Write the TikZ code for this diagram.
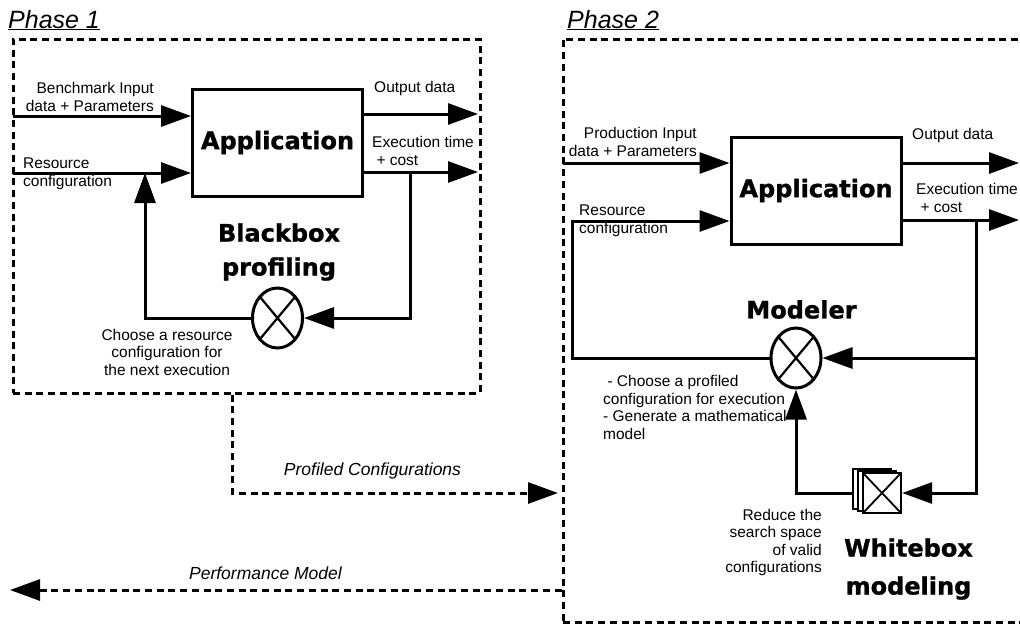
\documentclass[tikz,border=0pt]{standalone}
\usepackage{fontspec}
\setmainfont{Liberation Sans}
\newfontfamily\heavyfont{DejaVu Sans}[BoldFeatures={FakeBold=1.2}]
\usetikzlibrary{arrows.meta,positioning,shapes.geometric,calc}
\tikzset{
  phasebox/.style = {draw, line width=3pt, dash pattern=on 7pt off 4.7pt},
  appbox/.style = {draw, line width=3pt, minimum width=170pt, minimum height=107pt, font=\heavyfont\bfseries\fontsize{24}{28}\selectfont},
  selector/.style = {ellipse, draw, line width=3pt, minimum width=50pt, minimum height=60pt, inner sep=0pt,
    path picture={\draw[line width=2.2pt] (path picture bounding box.north west) -- (path picture bounding box.south east)
      (path picture bounding box.north east) -- (path picture bounding box.south west);}},
  wbsheet/.style = {draw, fill=white, line width=2.4pt, minimum width=38pt, minimum height=40pt, inner sep=0pt},
  flow/.style = {-{Triangle[length=30pt,width=21pt]}, line width=3pt},
  dflow/.style = {flow, dash pattern=on 7pt off 4.7pt},
  lbl/.style = {inner sep=0pt, font=\fontsize{15.5}{17.5}\selectfont},
  boldtitle/.style = {inner sep=0pt, align=center, font=\heavyfont\bfseries\fontsize{24}{34}\selectfont},
  phasetitle/.style = {inner sep=0pt, font=\itshape\fontsize{25}{28}\selectfont},
  linklabel/.style = {inner sep=0pt, font=\itshape\fontsize{17.5}{20}\selectfont}
  }
\begin{document}
\begin{tikzpicture}[x=1pt,y=-1pt]
\useasboundingbox (0,0) rectangle (1020,625);
\clip (0,0) rectangle (1020,625);

\node[phasebox, minimum width=467pt, minimum height=354pt] (phase1) at (246.5,216) {};
\node[phasebox, minimum width=480pt, minimum height=583pt] (phase2) at (803,330.5) {};
\node[phasetitle, anchor=base west] (ph1title) at (8,28) {\underline{Phase 1}};
\node[phasetitle, anchor=base west] (ph2title) at (567,28) {\underline{Phase 2}};

\node[appbox] (app1) at (277.5,142.5) {Application};
\node[selector, below=89pt of app1] (sel1) {};
\node[boldtitle] (bb1) at (279,252) {Blackbox\\profiling};
\coordinate (bin1) at (13,116);
\coordinate (rin1) at (13,173);
\coordinate (dout1) at (478,114);
\coordinate (tout1) at (478,172);
\coordinate (tap1) at (410,172);
\coordinate (ret1) at (145,173);
\node[lbl, align=right, anchor=east] (bench) at (154,97) {Benchmark Input\\data + Parameters};
\node[lbl, align=left, anchor=west] (res1) at (23,174) {Resource\\configuration};
\node[lbl, anchor=west] (out1) at (374,88) {Output data};
\node[lbl, align=left, anchor=west] (exec1) at (372,151) {Execution time\\\ + cost};
\node[lbl, align=center] (choose1) at (167,352) {Choose a resource\\configuration for\\the next execution};

\draw[flow] (bin1) -- (bin1 -| app1.west);
\draw[flow] (rin1) -- (rin1 -| app1.west);
\draw[flow] (app1.east |- dout1) -- (dout1);
\draw[flow] (app1.east |- tout1) -- (tout1);
\draw[flow] (tap1) |- (sel1.east);
\draw[flow] (sel1.west) -| (ret1);

\node[appbox] (app2) at (816,190.5) {Application};
\node[selector] (sel2) at (796,358) {};
\node[boldtitle] (modeler) at (801.5,309.5) {Modeler};
\node[wbsheet] (wb3) at (872,489) {};
\node[wbsheet] (wb2) at (877,491) {};
\node[wbsheet, path picture={\draw[line width=1.8pt] (path picture bounding box.north west) -- (path picture bounding box.south east)
  (path picture bounding box.north east) -- (path picture bounding box.south west);}] (wb1) at (882,493) {};
\node[boldtitle, font=\heavyfont\bfseries\fontsize{24}{38}\selectfont] (wbm) at (908.5,569) {Whitebox\\modeling};
\coordinate (pin2) at (563,163);
\coordinate (rin2) at (572,221);
\coordinate (dout2) at (1019,163);
\coordinate (tout2) at (1019,220);
\coordinate (tap2) at (976,220);
\node[lbl, align=right, anchor=east] (prod) at (697,142) {Production Input\\data + Parameters};
\node[lbl, align=left, anchor=west] (res2) at (579,221) {Resource\\configuration};
\node[lbl, anchor=west] (out2) at (912,135) {Output data};
\node[lbl, align=left, anchor=west] (exec2) at (916,198) {Execution time\\\ + cost};
\node[lbl, align=left, anchor=west] (choose2) at (603,407.5) {\ - Choose a profiled\\configuration for execution\\- Generate a mathematical\\model};
\node[lbl, align=right, anchor=east] (reduce) at (822,542.5) {Reduce the\\search space\\of valid\\configurations};

\draw[flow] (pin2) -- (pin2 -| app2.west);
\draw[flow] (sel2.west) -| (rin2) -- (rin2 -| app2.west);
\draw[flow] (app2.east |- dout2) -- (dout2);
\draw[flow] (app2.east |- tout2) -- (tout2);
\draw[flow] (tap2) |- (wb1.east);
\draw[flow] (tap2 |- sel2) -- (sel2.east);
\draw[flow] (wb3.west |- wb1) -| (sel2.south);

\coordinate (pcturn) at (232,493);
\coordinate (pcend) at (558,493);
\coordinate (pmend) at (10,590);
\draw[dflow] (phase1.south -| pcturn) -- (pcturn) -- (pcend);
\node[linklabel] (proflab) at (372.5,471) {Profiled Configurations};
\draw[dflow] (phase2.west |- pmend) -- (pmend);
\node[linklabel] (perflab) at (265.5,573.5) {Performance Model};
\end{tikzpicture}
\end{document}
